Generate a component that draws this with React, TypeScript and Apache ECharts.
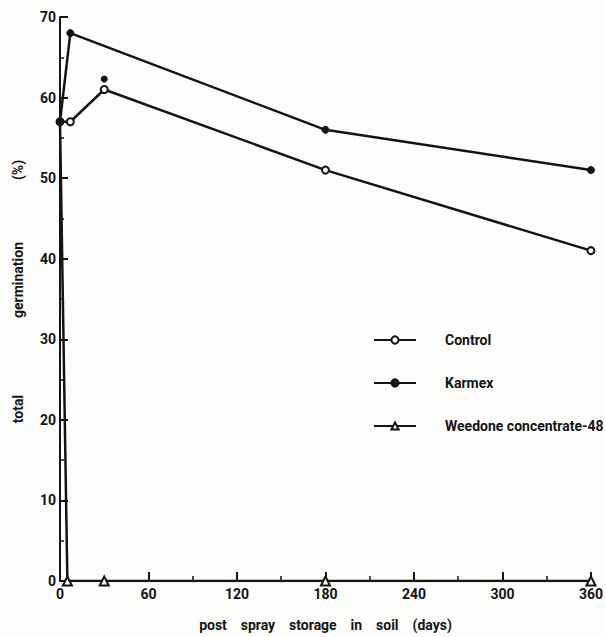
import React, { useEffect, useRef } from "react";
import * as echarts from "echarts";

const days = [0, 7, 30, 180, 360];
const controlValues = [57, 57, 61, 51, 41];
const karmexDays = [0, 7, 180, 360];
const karmexValues = [57, 68, 56, 51];
const karmexExtraDay = [30];
const karmexExtraValue = [62.3];
const weedoneDays = [0, 5, 30, 180, 360];
const weedoneValues = [57, 0, 0, 0, 0];
const xTicks = [0, 60, 120, 180, 240, 300, 360];
const yTicks = [0, 10, 20, 30, 40, 50, 60, 70];
const yTitleWords = ["total", "germination", "(%)"];
const xTitle = "post    spray    storage    in    soil    (days)";

const FONT = "Roboto, 'Liberation Sans', sans-serif";
const INK = "#141414";

export default function App() {
  const ref = useRef<HTMLDivElement>(null);
  useEffect(() => {
    if (!ref.current) return;
    const chart = echarts.init(ref.current, undefined, { renderer: "svg" });
    const zip = (xs: number[], ys: number[]) => xs.map((x, i) => [x, ys[i]]);
    const lineStyle = { color: INK, width: 2.5 };
    const yWordCenters = [409, 280, 170];
    chart.setOption({
      animation: false,
      backgroundColor: "#fdfdfb",
      grid: { left: 60, right: 13, top: 17, bottom: 48 },
      legend: {
        left: 368,
        top: 328,
        orient: "vertical",
        itemWidth: 42,
        itemHeight: 9,
        itemGap: 29,
        textStyle: { color: INK, fontSize: 14, fontWeight: "bold", fontFamily: FONT, padding: [0, 0, 0, 24] },
        data: ["Control", "Karmex", "Weedone concentrate-48"],
      },
      graphic: yTitleWords.map((w, i) => ({
        type: "text",
        x: 18,
        y: yWordCenters[i],
        rotation: Math.PI / 2,
        style: {
          text: w,
          fill: INK,
          font: `bold 14px ${FONT}`,
          align: "center",
          verticalAlign: "middle",
        },
      })),
      xAxis: {
        type: "value",
        min: xTicks[0],
        max: xTicks[xTicks.length - 1],
        interval: 60,
        name: xTitle,
        nameLocation: "middle",
        nameGap: 37,
        nameTextStyle: { color: INK, fontSize: 14, fontWeight: "bold", fontFamily: FONT },
        axisLine: { lineStyle: { color: INK, width: 2 } },
        axisTick: { inside: true, length: 9, lineStyle: { color: INK, width: 2 } },
        minorTick: { show: true, splitNumber: 2, length: 5, lineStyle: { color: INK, width: 1.5 } },
        splitLine: { show: false },
        axisLabel: { color: INK, fontSize: 14, fontWeight: "bold", fontFamily: FONT, margin: 6 },
      },
      yAxis: {
        type: "value",
        min: yTicks[0],
        max: yTicks[yTicks.length - 1],
        interval: 10,
        axisLine: { show: true, lineStyle: { color: INK, width: 2 } },
        axisTick: { show: true, inside: true, length: 8, lineStyle: { color: INK, width: 2 } },
        minorTick: { show: true, splitNumber: 2, length: 4, lineStyle: { color: INK, width: 1.5 } },
        splitLine: { show: false },
        axisLabel: { color: INK, fontSize: 14, fontWeight: "bold", fontFamily: FONT, margin: 4 },
      },
      series: [
        {
          name: "Weedone concentrate-48",
          type: "line",
          data: zip(weedoneDays, weedoneValues).map((v, i) =>
            i === 0 ? { value: v, symbol: "none" } : v
          ),
          symbol: "triangle",
          symbolSize: 9,
          lineStyle,
          itemStyle: { color: "#fff", borderColor: INK, borderWidth: 2 },
          z: 2,
        },
        {
          name: "Control",
          type: "line",
          data: zip(days, controlValues),
          symbol: "circle",
          symbolSize: 7,
          lineStyle,
          itemStyle: { color: "#fff", borderColor: INK, borderWidth: 2 },
          z: 3,
        },
        {
          name: "Karmex",
          type: "line",
          data: zip(karmexDays, karmexValues),
          symbol: "circle",
          symbolSize: 7,
          lineStyle,
          itemStyle: { color: INK, borderColor: INK, borderWidth: 1 },
          z: 5,
        },
        {
          name: "Karmex",
          type: "scatter",
          data: zip(karmexExtraDay, karmexExtraValue),
          symbol: "circle",
          symbolSize: 7,
          itemStyle: { color: INK, opacity: 1 },
          z: 5,
        },
      ],
    });
    return () => chart.dispose();
  }, []);
  return (
    <div
      ref={ref}
      style={{ position: "absolute", left: 0, top: 0, width: 606, height: 637 }}
    />
  );
}
